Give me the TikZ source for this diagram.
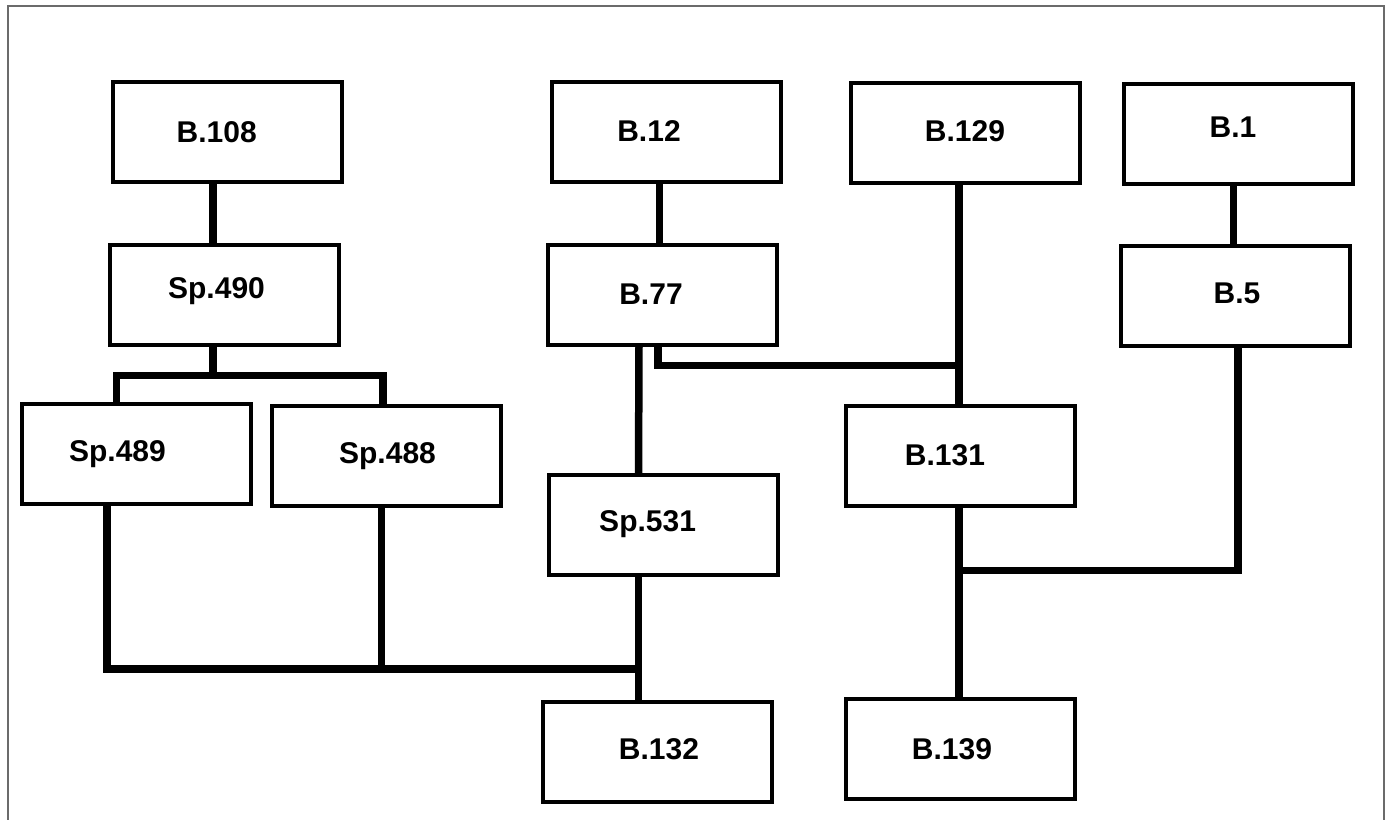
\documentclass[tikz,border=0pt]{standalone}
\usepackage{fontspec}
\setmainfont{Liberation Sans}
\begin{document}
\begin{tikzpicture}[x=1pt,y=-1pt,
  box/.style={draw=black,line width=4pt,rectangle,minimum width=229pt,minimum height=100pt,inner sep=0pt,outer sep=0pt,fill=white},
  lbl/.style={anchor=base,inner sep=0pt,font=\bfseries\fontsize{30}{36}\selectfont},
  link/.style={draw=black,line width=7.5pt,line join=miter}]
\useasboundingbox (0,0) rectangle (1386,819);
\fill[white] (0,0) rectangle (1386,819);
\draw[line width=2pt,draw=black!58] (8,820) -- (8,6) -- (1383.7,6) -- (1383.7,820);

% boxes
\node[box] (b108) at (227,131.5) {};
\node[box] (b12) at (666,132) {};
\node[box] (b129) at (965,132.5) {};
\node[box] (b1) at (1238.5,133.5) {};
\node[box] (sp490) at (224,295) {};
\node[box] (b77) at (662.5,295) {};
\node[box] (b5) at (1235,296) {};
\node[box] (sp489) at (136,454) {};
\node[box] (sp488) at (386,456) {};
\node[box] (b131) at (960,455.5) {};
\node[box] (sp531) at (663,525) {};
\node[box] (b132) at (657.5,752) {};
\node[box] (b139) at (960.5,748.5) {};

% labels
\node[lbl] at (216.7,142.4) {B.108};
\node[lbl] at (649,141.2) {B.12};
\node[lbl] at (965,141.2) {B.129};
\node[lbl] at (1233,137.2) {B.1};
\node[lbl] at (216.5,298.2) {Sp.490};
\node[lbl] at (651,304.7) {B.77};
\node[lbl] at (1237,303.7) {B.5};
\node[lbl] at (117.5,461.7) {Sp.489};
\node[lbl] at (387.5,463.2) {Sp.488};
\node[lbl] at (945,465.7) {B.131};
\node[lbl] at (647.6,531.7) {Sp.531};
\node[lbl] at (659,759.7) {B.132};
\node[lbl] at (952,759.7) {B.139};

% junction points
\coordinate (j490) at (213,375.5);
\coordinate (j77) at (959,365.5);
\coordinate (j5) at (959,570.5);
\coordinate (j132) at (638.5,669);

% connectors
\draw[link] ([xshift=-14pt]b108.south) -- ([xshift=-11pt]sp490.north);
\draw[link] ([xshift=-11pt]sp490.south) -- (j490);
\draw[link] ([xshift=-19.3pt]sp489.north) |- (j490) -| ([xshift=-3pt]sp488.north);
\draw[link] ([xshift=-6.5pt]b12.south) -- ([xshift=-3pt]b77.north);
\draw[link] ([xshift=-23.5pt]b77.south) -- ([xshift=-24.5pt]sp531.north);
\draw[link] ([xshift=-4.5pt]b77.south) |- (j77);
\draw[link] ([xshift=-6pt]b129.south) -- ([xshift=-1pt]b131.north);
\draw[link] ([xshift=-5pt]b1.south) -- ([xshift=-1.5pt]b5.north);
\draw[link] ([xshift=3pt]b5.south) |- (j5);
\draw[link] ([xshift=-1pt]b131.south) -- ([xshift=-1.5pt]b139.north);
\draw[link] ([xshift=-24.5pt]sp531.south) -- ([xshift=-19pt]b132.north);
\draw[link] ([xshift=-29pt]sp489.south) |- (j132);
\draw[link] ([xshift=-4.5pt]sp488.south) -- ([xshift=-4.5pt]sp488.south |- j132);
\end{tikzpicture}
\end{document}
